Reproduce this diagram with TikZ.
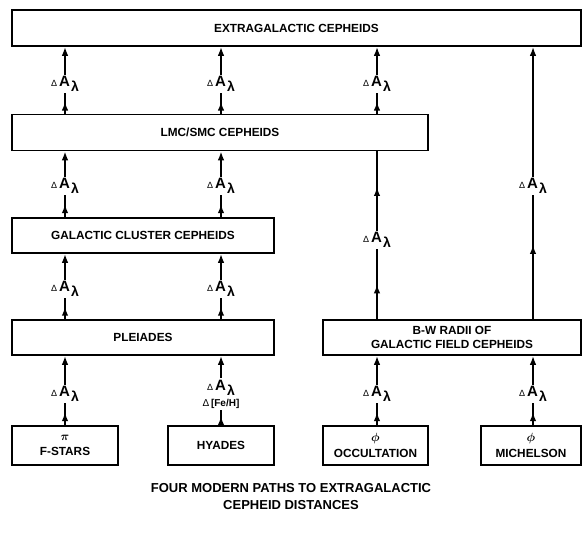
\documentclass[tikz,border=0pt]{standalone}
\usepackage{amsmath, amssymb}
\usepackage{fontspec}
\setmainfont{Liberation Sans}
\usetikzlibrary{arrows.meta, decorations.markings}

\newcommand{\dAl}{{\fontsize{9}{9}\selectfont Δ}\kern2pt{\fontsize{15}{15}\selectfont\bfseries A}\kern1pt\raisebox{-5pt}{\fontsize{14}{14}\selectfont\bfseries λ}}
\newcommand{\dFeH}{{\fontsize{10}{10}\selectfont Δ\,\bfseries [Fe/H]}}

\begin{document}
\begin{tikzpicture}[x=1pt, y=-1pt,
    box/.style={draw, line width=1.5pt, inner sep=0pt, align=center,
        font=\fontsize{11.8}{14.5}\selectfont\bfseries},
    lab/.style={inner sep=1.5pt, align=center},
    tip/.style={line width=1.9pt, -{Latex[length=9pt,width=6.5pt]}},
    midtip/.style={line width=1.9pt, postaction={decorate},
        decoration={markings, mark=at position #1 with {\arrow{Latex[length=9pt,width=6.5pt]}}}},
    midtip/.default=0.6]
    \useasboundingbox (0,0) rectangle (582,541);

    % boxes
    \node[box, minimum width=569pt, minimum height=36pt] (extra) at (296.5, 28) {EXTRAGALACTIC CEPHEIDS};
    \node[box, minimum width=416pt, minimum height=36pt] (lmc) at (220, 132.5) {LMC/SMC CEPHEIDS};
    \node[box, minimum width=262pt, minimum height=35pt] (gcc) at (143, 235.5) {GALACTIC CLUSTER CEPHEIDS};
    \node[box, minimum width=262pt, minimum height=35pt] (pleiades) at (143, 337.5) {PLEIADES};
    \node[box, minimum width=258pt, minimum height=35pt] (bw) at (452, 337.5) {B-W RADII OF\\GALACTIC FIELD CEPHEIDS};
    \node[box, minimum width=106pt, minimum height=39pt] (fstars) at (65, 445.5) {\fontsize{13}{13}\selectfont$\boldsymbol{\pi}$\\[1pt]F-STARS};
    \node[box, minimum width=106pt, minimum height=39pt] (hyades) at (221, 445.5) {HYADES};
    \node[box, minimum width=105pt, minimum height=39pt] (occ) at (375.5, 445.5) {\fontsize{13}{13}\selectfont$\boldsymbol{\phi}$\\[1pt]OCCULTATION};
    \node[box, minimum width=100pt, minimum height=39pt] (mich) at (531, 445.5) {\fontsize{13}{13}\selectfont$\boldsymbol{\phi}$\\[1pt]MICHELSON};

    % labels
    \node[lab] (a1) at (65, 84) {\dAl};
    \node[lab] (a2) at (221, 84) {\dAl};
    \node[lab] (a3) at (377, 84) {\dAl};
    \node[lab] (b1) at (65, 186) {\dAl};
    \node[lab] (b2) at (221, 186) {\dAl};
    \node[lab] (b4) at (533, 186) {\dAl};
    \node[lab] (c3) at (377, 240) {\dAl};
    \node[lab] (c1) at (65, 289) {\dAl};
    \node[lab] (c2) at (221, 289) {\dAl};
    \node[lab] (d1) at (65, 394) {\dAl};
    \node[lab] (d2) at (221, 394) {\dAl\\[3pt]\dFeH};
    \node[lab] (d3) at (377, 394) {\dAl};
    \node[lab] (d4) at (533, 394) {\dAl};

    % connectors
    \foreach \l/\lo/\up in {a1/lmc/extra, a2/lmc/extra, a3/lmc/extra,
                            b1/gcc/lmc, b2/gcc/lmc, b4/bw/extra,
                            c1/pleiades/gcc, c2/pleiades/gcc,
                            d1/fstars/pleiades, d2/hyades/pleiades,
                            d3/occ/bw, d4/mich/bw}
    {
        \draw[midtip] (\lo.north -| \l) -- (\l);
        \draw[tip] (\l) -- (\up.south -| \l);
    }
    \draw[midtip=0.5] (bw.north -| c3) -- (c3);
    \draw[midtip=0.55] (c3) -- (lmc.south -| c3);

    % caption
    \node[align=center, font=\fontsize{13}{17}\selectfont\bfseries] (title) at (291, 497)
        {FOUR MODERN PATHS TO EXTRAGALACTIC\\CEPHEID DISTANCES};
\end{tikzpicture}
\end{document}
